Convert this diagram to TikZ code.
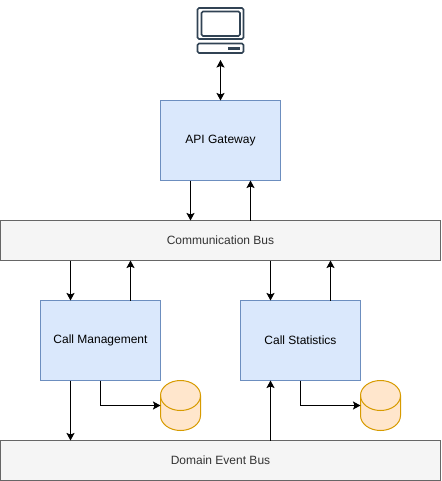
\documentclass[tikz,border=0pt]{standalone}
\usepackage{fontspec}
\setmainfont{Liberation Sans}
\usetikzlibrary{arrows.meta}
\definecolor{bluefill}{HTML}{DAE8FC}
\definecolor{blueline}{HTML}{6C8EBF}
\definecolor{grayfill}{HTML}{F5F5F5}
\definecolor{grayline}{HTML}{666666}
\definecolor{graytext}{HTML}{333333}
\definecolor{orangefill}{HTML}{FFE6CC}
\definecolor{orangeline}{HTML}{D79B00}
\definecolor{monitorline}{HTML}{314354}
\tikzset{
  x=1pt,y=-1pt,
  service/.style={rectangle,draw=blueline,fill=bluefill,line width=1pt,minimum width=120pt,minimum height=80pt,inner sep=0pt,outer sep=0pt,text=black,font=\fontsize{12}{14}\selectfont},
  bus/.style={rectangle,draw=grayline,fill=grayfill,line width=1pt,minimum width=440pt,minimum height=40pt,inner sep=0pt,outer sep=0pt,text=graytext,font=\fontsize{12}{14}\selectfont},
  holder/.style={rectangle,inner sep=0pt,outer sep=0pt},
  dbshape/.style={draw=orangeline,fill=orangefill,line width=1pt},
  monshape/.style={draw=monitorline,fill=white,line width=1.6pt,rounded corners=1.5pt},
  conn/.style={draw=black,line width=1pt,-{Stealth[length=7.5pt,width=8pt,inset=1.5pt]}},
  biconn/.style={draw=black,line width=1pt,{Stealth[length=7.5pt,width=8pt,inset=1.5pt]}-{Stealth[length=7.5pt,width=8pt,inset=1.5pt]}}
}
\newcommand{\dbcyl}[1]{%
  \path[dbshape] (#1.north west) ++(0,15) arc[x radius=20,y radius=15,start angle=180,end angle=360]
    -- ++(0,20) arc[x radius=20,y radius=15,start angle=0,end angle=180] -- cycle;
  \draw[dbshape,fill=none] (#1.north west) ++(0,15) arc[x radius=20,y radius=15,start angle=180,end angle=0];
}
\begin{document}
\begin{tikzpicture}
\useasboundingbox (0,0) rectangle (441,481);
\node[service] (api) at (220.5,140.5) {API Gateway};
\node[bus] (comm) at (220.5,240.5) {Communication Bus};
\node[service] (cm) at (100.5,340.5) {Call Management};
\node[service] (cs) at (300.5,340.5) {Call Statistics};
\node[bus] (dom) at (220.5,460.5) {Domain Event Bus};
\node[holder,minimum width=40pt,minimum height=50pt] (db1) at (180.5,405.5) {};
\node[holder,minimum width=40pt,minimum height=50pt] (db2) at (380.5,405.5) {};
\node[holder,minimum width=46pt,minimum height=52pt] (pc) at (220.5,34) {};
% computer
\draw[monshape] (197.5,8) rectangle (243.5,39);
\draw[monshape] (201.5,11.5) rectangle (240,36);
\draw[monshape] (197.5,43.5) rectangle (243.5,53);
\fill[monitorline] (227.5,47) rectangle (240,50);
% cylinders
\dbcyl{db1}
\dbcyl{db2}
% connectors
\draw[biconn] (pc.south) -- (api.north);
\draw[conn] ([xshift=-30pt]api.south) coordinate (a1) -- (a1 |- comm.north);
\draw[conn] ([xshift=30pt]api.south |- comm.north) -- ([xshift=30pt]api.south);
\draw[conn] ([xshift=-30pt]cm.north |- comm.south) -- ([xshift=-30pt]cm.north);
\draw[conn] ([xshift=30pt]cm.north) -- ([xshift=30pt]cm.north |- comm.south);
\draw[conn] ([xshift=-30pt]cs.north |- comm.south) -- ([xshift=-30pt]cs.north);
\draw[conn] ([xshift=30pt]cs.north) -- ([xshift=30pt]cs.north |- comm.south);
\draw[conn] ([xshift=-30pt]cm.south) coordinate (c1) -- (c1 |- dom.north);
\draw[conn] ([xshift=-30pt]cs.south |- dom.north) -- ([xshift=-30pt]cs.south);
\draw[conn] (cm.south) |- (db1.west);
\draw[conn] (cs.south) |- (db2.west);
\end{tikzpicture}
\end{document}
